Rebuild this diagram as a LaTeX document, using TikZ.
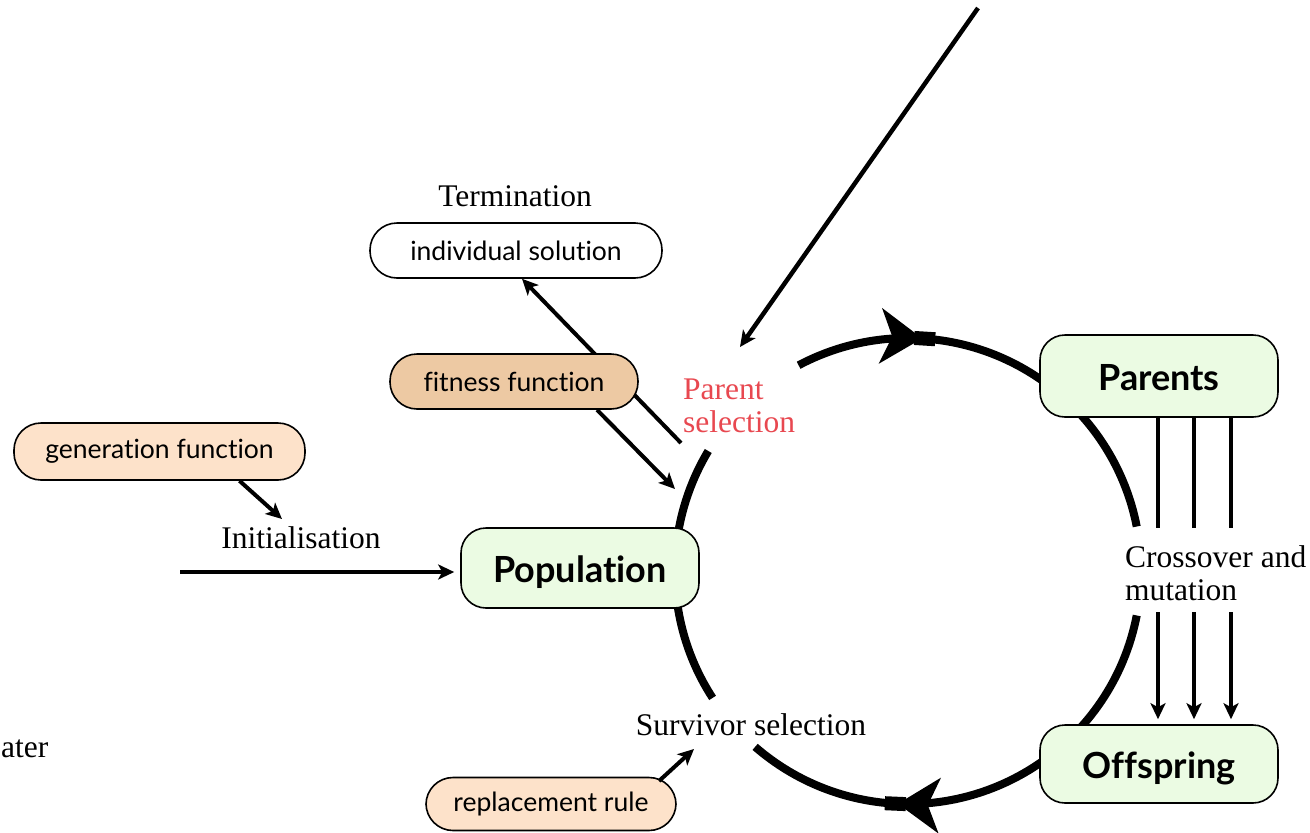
\documentclass[tikz,border=0pt]{standalone}
\usepackage{fontspec}
\setmainfont{Liberation Serif}
\newfontfamily\boxfont[Ligatures=NoCommon]{Lato}
\usetikzlibrary{arrows.meta,calc}
\definecolor{popgreen}{RGB}{235,251,227}
\definecolor{fittan}{RGB}{237,201,163}
\definecolor{genpeach}{RGB}{253,226,202}
\definecolor{selred}{RGB}{232,72,80}
\begin{document}
\begin{tikzpicture}[x=1pt,y=1pt,
  bigbox/.style={draw, line width=1.6pt, rounded corners=25pt, fill=popgreen,
    minimum width=238pt, minimum height=80pt, inner sep=0pt,
    text height=30pt, text depth=2pt,
    font=\boxfont\bfseries\fontsize{36}{40}\selectfont},
  pill/.style={draw, line width=1.6pt, rounded corners=27pt, inner sep=0pt,
    minimum height=55pt, font=\boxfont\fontsize{26.5}{30}\selectfont},
  lbl/.style={font=\fontsize{31.5}{33}\selectfont, inner sep=0pt},
  conn/.style={line width=4pt, -{Stealth[length=16pt,width=15pt,inset=4pt]}},
  plainline/.style={line width=4pt},
  ring/.style={line width=8pt},
  ringhead/.pic={
    \fill (0,0) -- (-42,28) -- (-30,0) -- (-42,-28) -- cycle;
    \fill (-8,-7) rectangle (13,7);
  },
]
\useasboundingbox (0,0) rectangle (1310,-833);

% centre of the evolutionary cycle
\coordinate (C) at (908,-571);

% free ends of the connectors
\coordinate (feed) at (978,-8);
\coordinate (pstop) at (740,-347);
\coordinate (psout) at (681,-443);
\coordinate (fitin) at (675,-489);
\coordinate (geninit) at (282,-519);
\coordinate (initstart) at (180,-572);
\coordinate (repout) at (659,-781);
\coordinate (survin) at (694,-749);

% the cycle itself
\draw[ring] (C) ++(118:233) arc[start angle=118, end angle=11, radius=233];
\draw[ring] (C) ++(-11:233) arc[start angle=-11, end angle=-131, radius=233];
\draw[ring] (C) ++(149:233) arc[start angle=149, end angle=213, radius=233];
\pic[rotate=-3.5] at ($(C)+(86.5:233)$) {ringhead};
\pic[rotate=177.5] at ($(C)+(-92.5:233)$) {ringhead};

% text labels
\node[lbl, anchor=base] (term) at (515,-206) {Termination};
\node[lbl, anchor=base] (init) at (301,-548) {Initialisation};
\node[lbl, anchor=base] (surv) at (751,-735) {Survivor selection};
\node[lbl, anchor=north west, align=left, text=selred] (psel) at (683,-379) {Parent\\selection};
\node[lbl, anchor=north west, align=left] (xmut) at (1125,-545) {Crossover and\\mutation};
\node[lbl, anchor=base west] (cut) at (1,-757) {ater};

% boxes
\node[pill, fill=white, minimum width=292pt] (indiv) at (516,-250.5) {individual solution};

\draw[conn] (psout) -- ([xshift=6pt]indiv.south);
\draw[conn, line width=4.5pt] (feed) -- (pstop);

\node[pill, fill=fittan, minimum width=248pt] (fit) at (514,-381.5) {fitness function};
\node[pill, fill=genpeach, minimum width=291pt, minimum height=57pt] (gen) at (159.5,-451.5) {generation function};
\node[pill, fill=genpeach, minimum width=250pt, minimum height=53pt] (rep) at (551,-804) {replacement rule};

\draw[conn] ([xshift=83pt]fit.south) -- (fitin);
\draw[conn] ([xshift=80pt]gen.south) -- (geninit);
\draw[conn] (repout) -- (survin);

\node[bigbox, minimum height=82pt] (par) at (1159,-376) {Parents};
\node[bigbox, minimum height=78pt] (off) at (1159,-764) {Offspring};
\node[bigbox] (pop) at (580,-568) {Population};

\draw[conn, shorten >=6pt] (initstart) -- (initstart -| pop.west);

% variation operators between parents and offspring
\foreach \x in {1158,1194,1231} {
  \draw[plainline] (par.south -| \x,0) -- (\x,-528);
  \draw[conn, shorten >=5pt] (\x,-612) -- (off.north -| \x,0);
}
\end{tikzpicture}
\end{document}
